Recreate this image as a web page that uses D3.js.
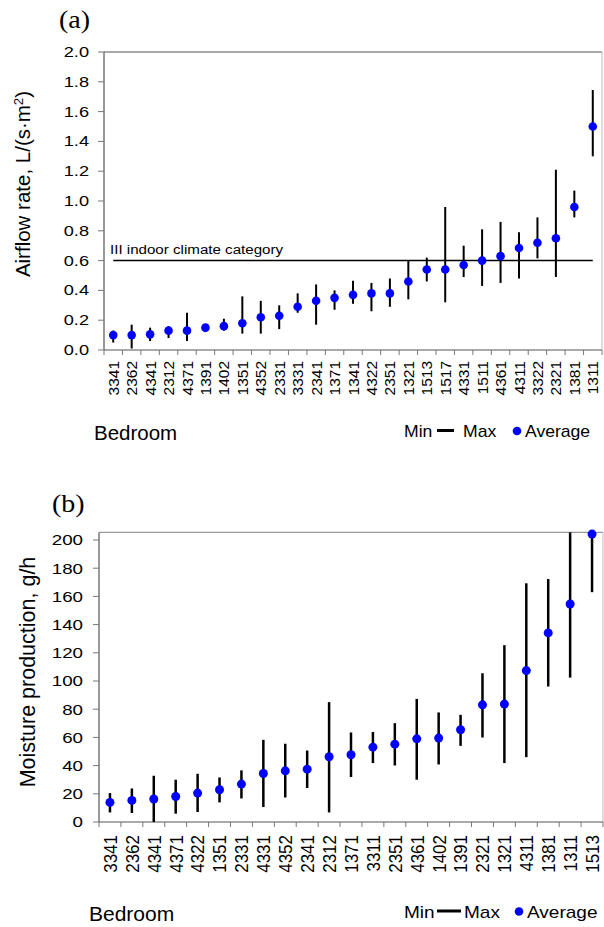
<!DOCTYPE html>
<html>
<head>
<meta charset="utf-8">
<script src="https://cdn.jsdelivr.net/npm/d3@7"></script>
<style>
body { margin: 0; background: #fff; }
svg { display: block; }
</style>
</head>
<body>
<div id="chart"></div>
<script>
// (a) airflow rate per bedroom, L/(s*m2)
var airflow_rooms = ['3341','2362','4341','2312','4371','1391','1402','1351','4352','2331','3331','2341','1371','1341','4322','2351','1321','1513','1517','4331','1511','4361','4311','3322','2321','1381','1311']
var airflow_avg = [0.10,0.10,0.105,0.13,0.13,0.15,0.16,0.18,0.22,0.23,0.29,0.33,0.35,0.37,0.38,0.38,0.46,0.54,0.54,0.57,0.60,0.63,0.685,0.72,0.75,0.96,1.50]
var airflow_min = [0.05,0.01,0.06,0.08,0.06,0.12,0.13,0.11,0.11,0.14,0.25,0.17,0.27,0.31,0.26,0.29,0.34,0.46,0.32,0.49,0.43,0.45,0.48,0.615,0.49,0.89,1.30]
var airflow_max = [0.13,0.17,0.15,0.16,0.25,0.17,0.21,0.36,0.33,0.30,0.38,0.44,0.40,0.465,0.45,0.48,0.60,0.62,0.96,0.70,0.81,0.86,0.79,0.89,1.21,1.07,1.745]
var airflow_ticks = [0,0.2,0.4,0.6,0.8,1.0,1.2,1.4,1.6,1.8,2.0]
var airflow_category = 0.6

// (b) moisture production per bedroom, g/h
var moisture_rooms = ['3341','2362','4341','4371','4322','1351','2331','4331','4352','2341','2312','1371','3311','2351','4361','1402','1391','2321','1321','4311','1381','1311','1513']
var moisture_avg = [13.9,15.3,16.3,18.1,20.5,22.9,26.9,34.4,36.3,37.5,46.3,47.7,53.1,55.2,59.0,59.5,65.4,83.1,83.6,107.4,134.1,154.6,204.2]
var moisture_min = [6.8,6.4,0,5.9,7.1,13.9,16.7,10.6,17.4,24.1,6.8,31.9,41.8,40.1,30.0,40.8,54.0,59.9,41.8,46.0,96.1,102.4,163.0]
var moisture_max = [20.5,23.8,32.8,30.0,34.2,31.6,36.6,58.3,55.5,50.7,85.0,63.5,63.8,70.1,87.3,77.7,76.0,105.5,125.4,169.3,172.3,205.4,205.4]
var moisture_ticks = [0,20,40,60,80,100,120,140,160,180,200]

var width = 604
var height = 927

var svg = d3.select('#chart')
  .append('svg')
  .attr('width', width)
  .attr('height', height)

// text helper: the reference glyphs are drawn a little wider than normal
function add_text(x, y, str, size, sx, anchor, rot, family) {
  return svg.append('text')
    .attr('transform', 'translate(' + x + ',' + y + ') scale(' + sx + ',1) rotate(' + (rot || 0) + ')')
    .attr('text-anchor', anchor)
    .style('font-family', family || "'Liberation Sans', Arial, sans-serif")
    .style('font-size', size + 'px')
    .attr('fill', '#000')
    .text(str)
}

function draw_panel(p) {
  var x = d3.scaleBand().domain(p.rooms).range([p.left, p.right])
  var y = d3.scaleLinear().domain([0, p.ticks[p.ticks.length - 1]]).range([p.bottom, p.y_top])
  var top = y(p.top_value)

  // frame top and right
  svg.append('line')
    .attr('x1', p.left).attr('x2', p.right).attr('y1', top).attr('y2', top)
    .attr('stroke', p.top_color).attr('stroke-width', 1.2)
  svg.append('line')
    .attr('x1', p.right).attr('x2', p.right).attr('y1', top).attr('y2', p.bottom)
    .attr('stroke', '#bbb').attr('stroke-width', 1)

  // y axis
  svg.append('line')
    .attr('x1', p.left).attr('x2', p.left).attr('y1', top).attr('y2', p.bottom)
    .attr('stroke', '#555').attr('stroke-width', 1.2)
  svg.selectAll()
    .data(p.ticks).enter()
    .append('line')
    .attr('x1', p.left - 6).attr('x2', p.left)
    .attr('y1', function(d) { return y(d) }).attr('y2', function(d) { return y(d) })
    .attr('stroke', '#777').attr('stroke-width', 1)
  p.ticks.forEach(function(d) {
    add_text(p.ylab_x, y(d), p.fmt(d), p.ytick_size, p.ytick_sx, 'end')
      .attr('dy', '0.36em')
  })

  // x axis, ticks sit between the rooms
  svg.append('line')
    .attr('x1', p.left).attr('x2', p.right).attr('y1', p.bottom).attr('y2', p.bottom)
    .attr('stroke', '#555').attr('stroke-width', 1.2)
  var edges = p.rooms.map(function(d) { return x(d) }).concat([p.right])
  svg.selectAll()
    .data(edges).enter()
    .append('line')
    .attr('x1', function(d) { return d }).attr('x2', function(d) { return d })
    .attr('y1', p.bottom).attr('y2', p.bottom + 5)
    .attr('stroke', '#777').attr('stroke-width', 1)
  p.rooms.forEach(function(d) {
    add_text(x(d) + x.bandwidth() / 2, p.xlab_y, d, p.xtick_size, p.xtick_sx, 'end', -90)
      .attr('dy', '0.36em')
  })

  if (p.extra) p.extra(x, y)

  // min-max bars
  svg.selectAll()
    .data(p.rooms).enter()
    .append('line')
    .attr('x1', function(d) { return x(d) + x.bandwidth() / 2 })
    .attr('x2', function(d) { return x(d) + x.bandwidth() / 2 })
    .attr('y1', function(d, i) { return y(p.min[i]) })
    .attr('y2', function(d, i) { return y(p.max[i]) })
    .attr('stroke', '#000').attr('stroke-width', p.bar_w)

  // averages
  svg.selectAll()
    .data(p.rooms).enter()
    .append('circle')
    .attr('cx', function(d) { return x(d) + x.bandwidth() / 2 })
    .attr('cy', function(d, i) { return y(p.avg[i]) })
    .attr('r', p.r)
    .attr('fill', '#0000ff')

  // titles
  add_text(p.letter_x, p.letter_y, p.letter, 25, 1.12, 'start', 0, "'Liberation Serif', 'Times New Roman', serif")
  var yt = add_text(p.ytitle_x, p.ytitle_y, p.ytitle, p.ytitle_size, 1, 'middle', -90)
  if (p.ytitle_sup) {
    yt.append('tspan').attr('baseline-shift', 'super').style('font-size', (p.ytitle_size * 0.65) + 'px').text(p.ytitle_sup)
    yt.append('tspan').text(')')
  }
  add_text(p.left - 10, p.bedroom_y, 'Bedroom', p.bedroom_size, 1, 'start')

  // legend
  var ly = p.legend_y
  add_text(404, ly, 'Min', p.legend_size, p.legend_sx, 'start')
  svg.append('line')
    .attr('x1', 437).attr('x2', p.legend_dash_end).attr('y1', ly - 6.5).attr('y2', ly - 6.5)
    .attr('stroke', '#000').attr('stroke-width', 3)
  add_text(p.legend_max_x, ly, 'Max', p.legend_size, p.legend_sx, 'start')
  svg.append('circle')
    .attr('cx', p.legend_dot_x).attr('cy', ly - 6).attr('r', 4.3)
    .attr('fill', '#0000ff')
  add_text(p.legend_dot_x + 8, ly, 'Average', p.legend_size, p.legend_sx, 'start')
}

draw_panel({
  rooms: airflow_rooms, avg: airflow_avg, min: airflow_min, max: airflow_max, ticks: airflow_ticks,
  left: 104, right: 602, bottom: 350, y_top: 52, top_value: 2.0, top_color: '#555',
  fmt: d3.format('.1f'), ylab_x: 89, ytick_size: 14, ytick_sx: 1.3,
  xlab_y: 361, xtick_size: 15.5, xtick_sx: 1.0, r: 4.3, bar_w: 2,
  letter: '(a)', letter_x: 59, letter_y: 28,
  ytitle: 'Airflow rate, L/(s\u00b7m', ytitle_sup: '2', ytitle_x: 30, ytitle_y: 184, ytitle_size: 20.5,
  bedroom_y: 440, bedroom_size: 20.5,
  legend_y: 437, legend_size: 16, legend_sx: 1.1, legend_dash_end: 454, legend_max_x: 463, legend_dot_x: 517,
  extra: function(x, y) {
    var first = airflow_rooms[0], last = airflow_rooms[airflow_rooms.length - 1]
    svg.append('line')
      .attr('x1', x(first) + x.bandwidth() / 2)
      .attr('x2', x(last) + x.bandwidth() / 2)
      .attr('y1', y(airflow_category)).attr('y2', y(airflow_category))
      .attr('stroke', '#000').attr('stroke-width', 1.5)
    add_text(x(first) + 6, y(airflow_category) - 7, 'III indoor climate category', 13.5, 1.12, 'start')
  }
})

draw_panel({
  rooms: moisture_rooms, avg: moisture_avg, min: moisture_min, max: moisture_max, ticks: moisture_ticks,
  left: 99, right: 603, bottom: 822, y_top: 540, top_value: 205.4, top_color: '#999',
  fmt: d3.format('d'), ylab_x: 83, ytick_size: 15, ytick_sx: 1.25,
  xlab_y: 835, xtick_size: 17, xtick_sx: 1.12, r: 4.5, bar_w: 2.5,
  letter: '(b)', letter_x: 52, letter_y: 512,
  ytitle: 'Moisture production, g/h', ytitle_x: 35, ytitle_y: 672, ytitle_size: 21.5,
  bedroom_y: 921, bedroom_size: 21,
  legend_y: 917.5, legend_size: 17, legend_sx: 1.12, legend_dash_end: 461, legend_max_x: 464, legend_dot_x: 519
})
</script>
</body>
</html>
